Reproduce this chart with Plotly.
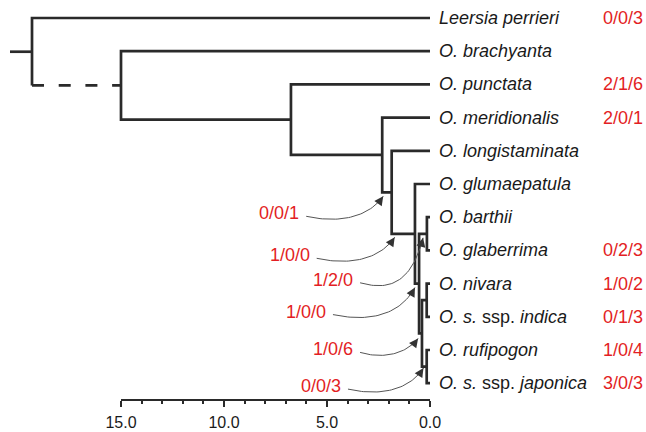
import plotly.graph_objects as go

# ---------------- data ----------------
leaf_labels = [
    "<i>Leersia perrieri</i>", "<i>O. brachyanta</i>", "<i>O. punctata</i>",
    "<i>O. meridionalis</i>", "<i>O. longistaminata</i>", "<i>O. glumaepatula</i>",
    "<i>O. barthii</i>", "<i>O. glaberrima</i>", "<i>O. nivara</i>",
    "<i>O. s.</i> ssp. <i>indica</i>", "<i>O. rufipogon</i>", "<i>O. s.</i> ssp. <i>japonica</i>",
]
leaf_counts = ["0/0/3", "", "2/1/6", "2/0/1", "", "", "", "0/2/3", "1/0/2", "0/1/3", "1/0/4", "3/0/3"]

node_ids = ["root", "A", "B", "C", "D", "E", "X", "BG", "AS", "NI", "RJ"]
node_ages = [19.32, 15.0, 6.75, 2.32, 1.86, 0.73, 0.53, 0.15, 0.39, 0.16, 0.16]
node_kids = [(0, "A"), (1, "B"), (2, "C"), (3, "D"), (4, "E"), (5, "X"),
             ("BG", "AS"), (6, 7), ("NI", "RJ"), (8, 9), (10, 11)]
root_stub_age = 20.39
dashed_branch = ("root", "A")

branch_counts = ["0/0/1", "1/0/0", "1/2/0", "1/0/0", "1/0/6", "0/0/3"]
branch_nodes = ["D", "E", "BG", "X", "AS", "RJ"]

tick_values = [15.0, 10.0, 5.0, 0.0]

# ---------------- layout constants ----------------
W, H = 646, 432
X0_PX, PX_PER_MY = 430.0, 20.6
Y0_PX, ROW_PX = 18.0, 33.2
AXIS_Y_PX = 399.5

LINE_COL = "#2a2a2a"
TEXT_COL = "#1a1a1a"
RED = "#e31e24"
FONT = "Liberation Sans, Arial, sans-serif"

def xpx(a): return X0_PX - PX_PER_MY * a
def ypx(r): return Y0_PX + ROW_PX * r
def age_of(px): return (X0_PX - px) / PX_PER_MY
def row_of(py): return (py - Y0_PX) / ROW_PX

# ---------------- tree geometry ----------------
age = dict(zip(node_ids, node_ages))
kids = dict(zip(node_ids, node_kids))
parent = {}
for n, (k1, k2) in kids.items():
    parent[k1] = n
    parent[k2] = n

def X(n): return 0.0 if isinstance(n, int) else age[n]
def Y(n):
    if isinstance(n, int):
        return float(n)
    k1, k2 = kids[n]
    return (Y(k1) + Y(k2)) / 2

sx, sy = [], []
dx_, dy_ = [], []
for n in node_ids:
    k1, k2 = kids[n]
    a = age[n]
    for k in (k1, k2):
        if (n, k) == dashed_branch:
            dx_ += [a, X(k), None]
            dy_ += [Y(k), Y(k), None]
    pts = []
    if (n, k1) != dashed_branch:
        pts.append((X(k1), Y(k1)))
    pts += [(a, Y(k1)), (a, Y(k2))]
    if (n, k2) != dashed_branch:
        pts.append((X(k2), Y(k2)))
    sx += [p[0] for p in pts] + [None]
    sy += [p[1] for p in pts] + [None]
sx += [root_stub_age, age["root"], None]
sy += [Y("root"), Y("root"), None]

fig = go.Figure()
fig.add_trace(go.Scatter(x=sx, y=sy, mode="lines", line=dict(color=LINE_COL, width=2.7),
                         hoverinfo="skip", showlegend=False))
fig.add_trace(go.Scatter(x=dx_, y=dy_, mode="lines",
                         line=dict(color=LINE_COL, width=2.7, dash="12px,14.7px"),
                         hoverinfo="skip", showlegend=False))

# ---------------- curved arrows ----------------
tip_dx = [1, 3, 4, 0, -1, 1.5]
tip_dy = [4, 3.5, 4, 4, 5, 1.5]
start_dx = [-77, -78, -63, -82, -58, -75.5]
start_dy = [20, 21, 45, 27, 14, 21]

ax_, ay_ = [], []
annotations = []
for i, (lab, node) in enumerate(zip(branch_counts, branch_nodes)):
    tx = xpx(age[parent[node]]) + tip_dx[i]
    ty = ypx(Y(node)) + tip_dy[i]
    s_x, s_y = tx + start_dx[i], ty + start_dy[i]
    d = tx - s_x
    dyabs = s_y - ty
    c1 = (s_x + 0.4 * d, s_y + 7)
    c2 = (tx - 0.2 * d, ty + 1.1 * dyabs)
    N = 40
    for j in range(N + 1):
        t = j / N
        bx = (1 - t) ** 3 * s_x + 3 * (1 - t) ** 2 * t * c1[0] + 3 * (1 - t) * t ** 2 * c2[0] + t ** 3 * tx
        by = (1 - t) ** 3 * s_y + 3 * (1 - t) ** 2 * t * c1[1] + 3 * (1 - t) * t ** 2 * c2[1] + t ** 3 * ty
        ax_.append(age_of(bx))
        ay_.append(row_of(by))
    ax_.append(None)
    ay_.append(None)
    ux, uy = c2[0] - tx, c2[1] - ty
    L = (ux ** 2 + uy ** 2) ** 0.5
    ux, uy = ux / L * 8, uy / L * 8
    annotations.append(dict(x=age_of(tx), y=row_of(ty), xref="x", yref="y", text="",
                            showarrow=True, ax=ux, ay=uy, arrowhead=2, arrowsize=1.8,
                            arrowwidth=1, arrowcolor="#333333", standoff=0))
    annotations.append(dict(x=age_of(s_x - 5), y=row_of(s_y - 3), xref="x", yref="y",
                            text=lab, showarrow=False, xanchor="right", yanchor="middle",
                            font=dict(family=FONT, size=18, color=RED)))

fig.add_trace(go.Scatter(x=ax_, y=ay_, mode="lines", line=dict(color="#555555", width=1),
                         hoverinfo="skip", showlegend=False))

# ---------------- leaf labels ----------------
for i, (lab, cnt) in enumerate(zip(leaf_labels, leaf_counts)):
    annotations.append(dict(x=0.0, y=i, xref="x", yref="y", text=lab, showarrow=False,
                            xanchor="left", yanchor="middle", xshift=7,
                            font=dict(family=FONT, size=18, color=TEXT_COL)))
    if cnt:
        annotations.append(dict(x=1, y=i, xref="paper", yref="y", text=cnt, showarrow=False,
                                xanchor="right", yanchor="middle", xshift=-1,
                                font=dict(family=FONT, size=18, color=RED)))

fig.add_trace(go.Scatter(x=[tick_values[-1]], y=[None], xaxis="x2", yaxis="y",
                         mode="markers", hoverinfo="skip", showlegend=False))

fig.update_layout(
    width=W, height=H,
    margin=dict(l=0, r=0, t=0, b=0, pad=0, autoexpand=False),
    paper_bgcolor="white", plot_bgcolor="rgba(0,0,0,0)",
    annotations=annotations,
    xaxis=dict(range=[age_of(0), age_of(W)], domain=[0, 1], visible=False, fixedrange=True),
    yaxis=dict(range=[row_of(H), row_of(0)], domain=[0, 1], visible=False, fixedrange=True),
    xaxis2=dict(
        range=[max(tick_values), min(tick_values)],
        domain=[xpx(max(tick_values)) / W, xpx(min(tick_values)) / W],
        anchor="free", position=(H - AXIS_Y_PX) / H,
        showline=True, linecolor=LINE_COL, linewidth=2,
        tickmode="array", tickvals=tick_values, ticktext=[f"{v:.1f}" for v in tick_values],
        ticks="outside", ticklen=6, tickwidth=2, tickcolor=LINE_COL,
        minor=dict(dtick=1, tick0=0, ticks="outside", ticklen=3, tickwidth=1.5, tickcolor=LINE_COL),
        showgrid=False, zeroline=False,
        ticklabelstandoff=2,
        tickfont=dict(family=FONT, size=16, color=TEXT_COL),
        fixedrange=True,
    ),
    showlegend=False,
)

fig.write_html("out.html", config={"responsive": False, "displayModeBar": False},
               post_script="document.body.style.margin='0';document.body.style.overflow='hidden';")
